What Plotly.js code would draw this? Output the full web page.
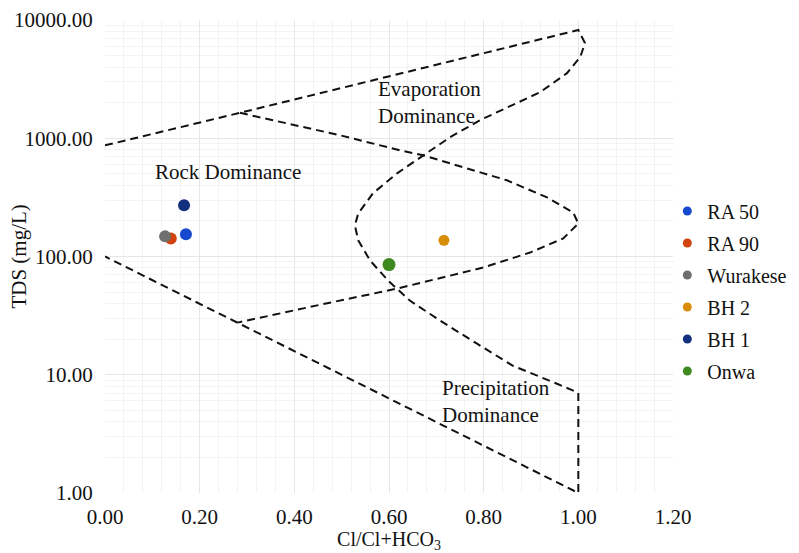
<!DOCTYPE html>
<html>
<head>
<meta charset="utf-8">
<script src="https://cdn.plot.ly/plotly-3.0.1.min.js"></script>
<style>html,body{margin:0;padding:0;background:#fff;}#chart{width:799px;height:553px;}</style>
</head>
<body>
<div id="chart"></div>
<script>
// Sample points
var sampleNames = ["RA 50", "RA 90", "Wurakese", "BH 2", "BH 1", "Onwa"];
var sampleX = [0.171, 0.139, 0.127, 0.716, 0.167, 0.600];
var sampleTDS = [154, 142, 148, 137, 271, 85.5];
var sampleColors = ["#1748d0", "#d2430e", "#6f6f6f", "#d98e0a", "#13307f", "#3e8a1e"];
var sampleSizes = [12, 12, 12, 11, 12, 13];

// Outer Gibbs boundary (upper line, evaporation curve, precipitation edge, lower line)
var outerX = [0.0, 0.285, 1.0, 1.014, 1.004, 0.976, 0.919, 0.849, 0.792, 0.729, 0.672, 0.617, 0.566, 0.535, 0.528, 0.535, 0.560, 0.598, 0.644, 0.708, 0.786, 0.862, 0.955, 1.0, 1.0, 0.28, 0.0];
var outerTDS = [870, 1640, 8230, 6380, 4860, 3550, 2450, 1830, 1420, 1020, 718, 505, 342, 231, 183, 137, 92.5, 62.6, 42.4, 28.7, 18.3, 11.9, 8.39, 7.04, 1.0, 27.6, 100];

// Inner rock/evaporation lobe
var lobeX = [0.285, 0.4965, 0.623, 0.672, 0.849, 0.934, 0.989, 1.0, 0.968, 0.898, 0.799, 0.687, 0.617, 0.475, 0.28];
var lobeTDS = [1640, 1060, 791, 718, 441, 316, 236, 190, 142, 108, 80.7, 62.6, 53.5, 40.7, 27.6];

var xTicks = [0, 0.2, 0.4, 0.6, 0.8, 1.0, 1.2];
var yTicks = [1, 10, 100, 1000, 10000];

var serif = "Liberation Serif, Times New Roman, serif";
var lineStyle = {color: "#111", width: 2, dash: "8px,5px"};

var traces = [
  {x: outerX, y: outerTDS, mode: "lines", line: lineStyle, showlegend: false, hoverinfo: "skip"},
  {x: lobeX, y: lobeTDS, mode: "lines", line: lineStyle, showlegend: false, hoverinfo: "skip"}
];
for (var i = 0; i < sampleNames.length; i++) {
  traces.push({
    x: [sampleX[i]], y: [sampleTDS[i]], name: sampleNames[i], type: "scatter", mode: "markers",
    marker: {color: sampleColors[i], size: sampleSizes[i]}, showlegend: false
  });
}
// legend entries (small dots)
for (var j = 0; j < sampleNames.length; j++) {
  traces.push({
    x: [null], y: [null], name: sampleNames[j], type: "scatter", mode: "markers",
    legendgroup: "g" + j, marker: {color: sampleColors[j], size: 9}
  });
}

var layout = {
  width: 799, height: 553,
  margin: {l: 105, r: 126, t: 20, b: 60, autoexpand: false},
  paper_bgcolor: "#fff", plot_bgcolor: "#fff",
  font: {family: serif, color: "#111", size: 21},
  showlegend: true,
  xaxis: {
    range: [0, 1.2], tickmode: "array", tickvals: xTicks,
    ticktext: xTicks.map(function(v){return v.toFixed(2);}),
    showgrid: true, gridcolor: "#e6e6e6", gridwidth: 1, zeroline: false, showline: false,
    ticks: "outside", ticklen: 5, tickcolor: "rgba(0,0,0,0)",
    minor: {dtick: 0.04, showgrid: true, gridcolor: "#f3f3f3", ticks: ""},
    tickfont: {size: 21, family: serif},
    automargin: false,
    title: {text: "Cl/Cl+HCO<sub>3</sub>", font: {size: 20, family: serif}, standoff: 2}
  },
  yaxis: {
    type: "log", range: [0, 4], tickmode: "array", tickvals: yTicks,
    ticktext: yTicks.map(function(v){return v.toFixed(2);}),
    showgrid: true, gridcolor: "#e6e6e6", gridwidth: 1, zeroline: false, showline: false,
    ticks: "outside", ticklen: 7, tickcolor: "rgba(0,0,0,0)",
    minor: {dtick: "D1", showgrid: true, gridcolor: "#f3f3f3", ticks: ""},
    tickfont: {size: 21, family: serif},
    automargin: false
  },
  legend: {
    x: 0.99, xanchor: "left", y: 0.427, yanchor: "middle",
    font: {size: 20, family: serif},
    traceorder: "grouped", tracegroupgap: 3, bgcolor: "rgba(0,0,0,0)"
  },
  annotations: [
    {x: 0.26, y: Math.log10(515), xref: "x", yref: "y", text: "Rock Dominance", showarrow: false, font: {size: 21, family: serif}},
    {x: 0.5726, y: Math.log10(2018), xref: "x", yref: "y", text: "Evaporation<br>Dominance", showarrow: false, xanchor: "left", align: "left", font: {size: 21, family: serif}},
    {x: 0.708, y: Math.log10(5.9), xref: "x", yref: "y", text: "Precipitation<br>Dominance", showarrow: false, xanchor: "left", align: "left", font: {size: 21, family: serif}},
    {x: -0.153, y: 0.5, xref: "paper", yref: "paper", text: "TDS (mg/L)", textangle: -90, showarrow: false, xanchor: "center", yanchor: "middle", font: {size: 21, family: serif}}
  ]
};

Plotly.newPlot("chart", traces, layout, {displayModeBar: false, staticPlot: true});
</script>
</body>
</html>
